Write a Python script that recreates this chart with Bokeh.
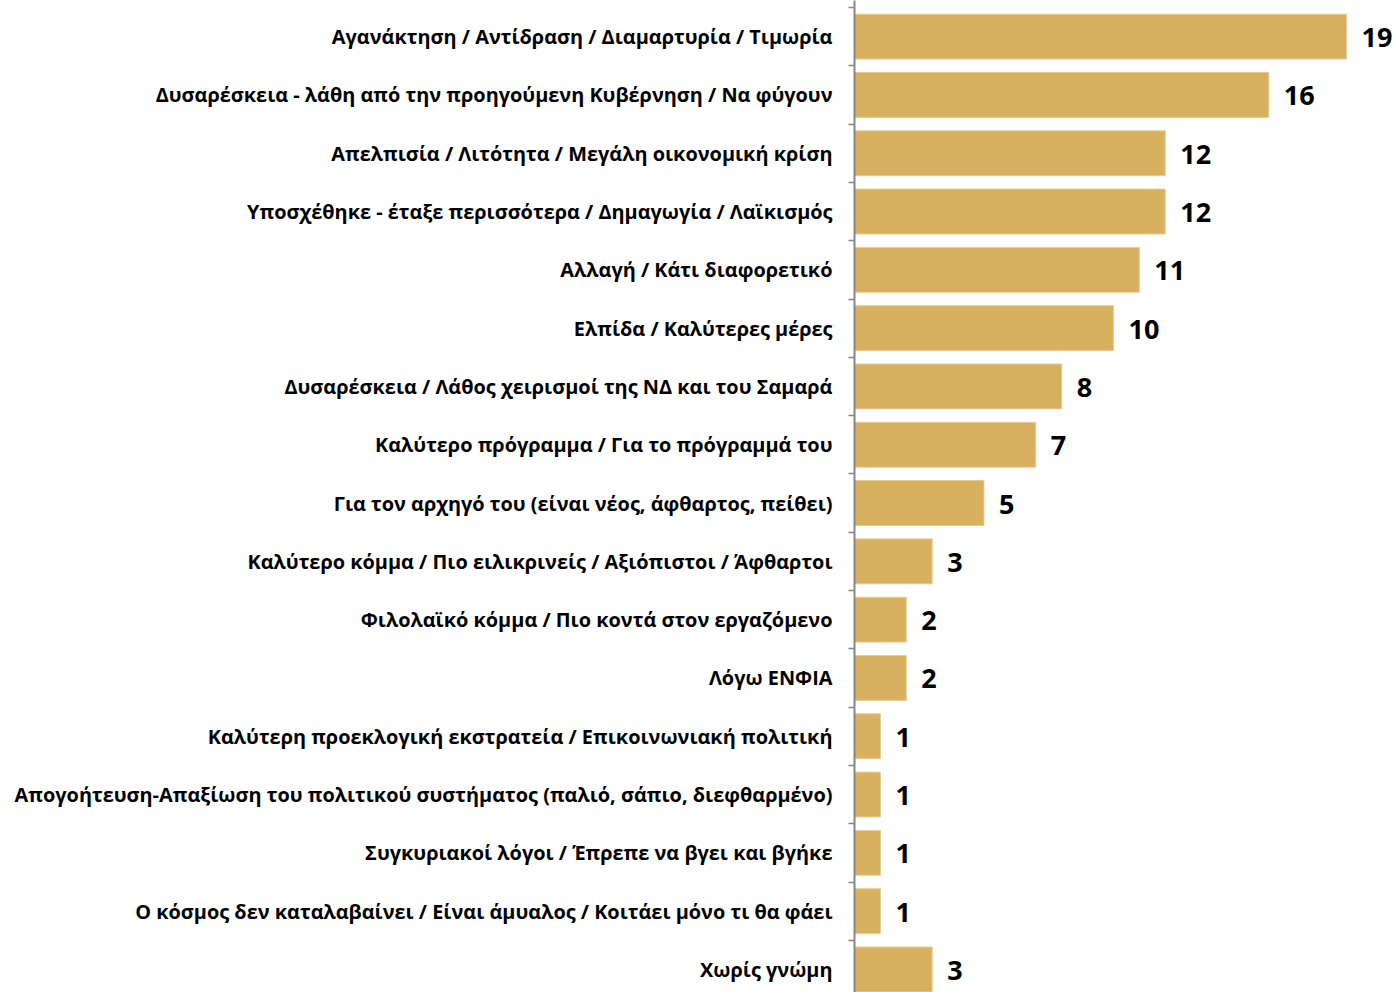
from bokeh.plotting import figure
from bokeh.models import ColumnDataSource, Range1d, FixedTicker
from bokeh.core.properties import value
from bokeh.embed import file_html
from bokeh.resources import INLINE

labels = [
    "Αγανάκτηση / Αντίδραση / Διαμαρτυρία / Τιμωρία",
    "Δυσαρέσκεια - λάθη από την προηγούμενη Κυβέρνηση / Να φύγουν",
    "Απελπισία / Λιτότητα / Μεγάλη οικονομική κρίση",
    "Υποσχέθηκε - έταξε περισσότερα / Δημαγωγία / Λαϊκισμός",
    "Αλλαγή / Κάτι διαφορετικό",
    "Ελπίδα / Καλύτερες μέρες",
    "Δυσαρέσκεια / Λάθος χειρισμοί της ΝΔ και του Σαμαρά",
    "Καλύτερο πρόγραμμα / Για το πρόγραμμά του",
    "Για τον αρχηγό του (είναι νέος, άφθαρτος, πείθει)",
    "Καλύτερο κόμμα / Πιο ειλικρινείς / Αξιόπιστοι / Άφθαρτοι",
    "Φιλολαϊκό κόμμα / Πιο κοντά στον εργαζόμενο",
    "Λόγω ΕΝΦΙΑ",
    "Καλύτερη προεκλογική εκστρατεία / Επικοινωνιακή πολιτική",
    "Απογοήτευση-Απαξίωση του πολιτικού συστήματος (παλιό, σάπιο, διεφθαρμένο)",
    "Συγκυριακοί λόγοι / Έπρεπε να βγει και βγήκε",
    "Ο κόσμος δεν καταλαβαίνει / Είναι άμυαλος / Κοιτάει μόνο τι θα φάει",
    "Χωρίς γνώμη",
]
values = [19, 16, 12, 12, 11, 10, 8, 7, 5, 3, 2, 2, 1, 1, 1, 1, 3]

n = len(labels)
ys = [n - 1 - i for i in range(n)]
src = ColumnDataSource(dict(y=ys, v=values, t=[str(v) for v in values]))

FONT = "Open Sans"
GOLD = "#D8B160"
GRAY = "#868686"

p = figure(width=1397, height=992, output_backend="svg", toolbar_location=None,
           x_range=Range1d(0, 20.97), y_range=Range1d(-0.395, 16.62),
           min_border_left=854, min_border_right=0, min_border_top=0, min_border_bottom=0,
           x_axis_location=None)
p.outline_line_color = None
p.grid.visible = False
p.background_fill_color = "white"
p.border_fill_color = "white"

p.hbar(y="y", right="v", left=0, height=0.77, source=src,
       fill_color=GOLD, line_color="#E6CC94", line_width=1)

p.text(x="v", y="y", text="t", source=src, x_offset=15, y_offset=1,
       text_align="left", text_baseline="middle",
       text_font=value(FONT), text_font_style="bold", text_font_size="27px",
       text_color="black")

ax = p.yaxis[0]
ax.ticker = FixedTicker(ticks=ys, minor_ticks=[k - 0.5 for k in range(n + 1)])
ax.major_label_overrides = {y: lab for y, lab in zip(ys, labels)}
ax.major_tick_line_color = None
ax.major_tick_out = 0
ax.major_tick_in = 0
ax.minor_tick_line_color = GRAY
ax.minor_tick_line_width = 1.5
ax.minor_tick_out = 6
ax.minor_tick_in = 0
ax.axis_line_color = GRAY
ax.axis_line_width = 2
ax.major_label_standoff = 16
ax.major_label_text_font = FONT
ax.major_label_text_font_style = "bold"
ax.major_label_text_font_size = "19.9px"
ax.major_label_text_color = "black"

open("out.html", "w").write(file_html(p, INLINE))
